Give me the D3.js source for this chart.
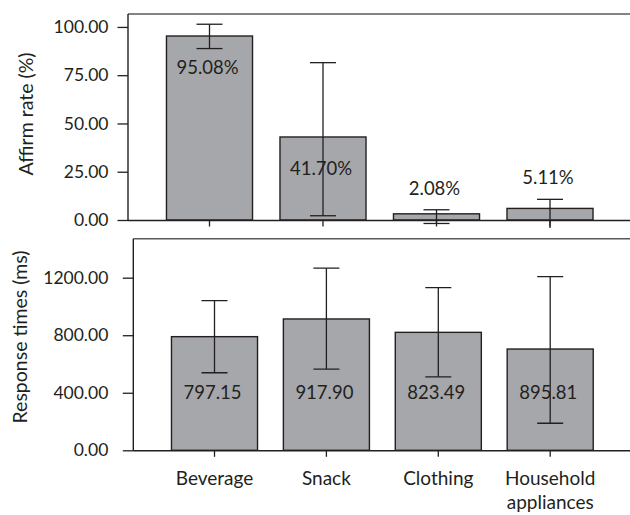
<!DOCTYPE html>
<html><head><meta charset="utf-8">
<script src="https://cdn.jsdelivr.net/npm/d3@7/dist/d3.min.js"></script>
<style>body{margin:0;background:#fff}svg{display:block}</style>
</head><body>
<svg id="chart" width="630" height="515"></svg>
<script>
const categories = ["Beverage", "Snack", "Clothing", "Household appliances"];
// Panel 1: affirm rate (%)
const affirmBars = [95.3, 43.0, 3.2, 6.0];
const affirmUpper = [101.4, 81.5, 5.3, 10.7];
const affirmLower = [88.8, 2.2, -1.8, -12];
const affirmLabels = ["95.08%", "41.70%", "2.08%", "5.11%"];
const affirmTicks = [0, 25, 50, 75, 100];
// Panel 2: response times (ms)
const rtBars = [790, 913, 820, 704];
const rtUpper = [1040, 1266, 1131, 1208];
const rtLower = [539, 564, 511, 188];
const rtLabels = ["797.15", "917.90", "823.49", "895.81"];
const rtTicks = [0, 400, 800, 1200];

const FONT = "Lato, 'Open Sans', sans-serif";
const INK = "#231f20";
const FILL = "#a6a7ab";
const svg = d3.select("#chart");
const fmt = d3.format(".2f");

function panel(cfg) {
  const g = svg.append("g");
  const x = d3.scaleBand().domain(categories).range(cfg.xr).paddingInner(cfg.pi).paddingOuter(cfg.pi / 2);
  const y = d3.scaleLinear().domain(cfg.yd).range([cfg.bottom, cfg.top]);
  const clipId = "clip" + cfg.id;
  svg.append("clipPath").attr("id", clipId).append("rect")
    .attr("x", cfg.left).attr("y", cfg.top).attr("width", 630 - cfg.left).attr("height", cfg.clipH);

  // top border
  g.append("line").attr("x1", cfg.left).attr("x2", 630).attr("y1", cfg.top).attr("y2", cfg.top)
    .attr("stroke", "#5a5a5a").attr("stroke-width", 1.6);

  // bars
  g.selectAll("rect.bar").data(categories).join("rect").attr("class", "bar")
    .attr("x", d => x(d)).attr("width", x.bandwidth())
    .attr("y", (d, i) => y(cfg.bars[i])).attr("height", (d, i) => y(0) - y(cfg.bars[i]))
    .attr("fill", FILL).attr("stroke", INK).attr("stroke-width", 1.4);

  // error bars
  const eg = g.append("g").attr("clip-path", `url(#${clipId})`).attr("stroke", INK).attr("stroke-width", 1.3);
  const cw = 13;
  categories.forEach((c, i) => {
    const cx = x(c) + x.bandwidth() / 2;
    eg.append("line").attr("x1", cx).attr("x2", cx).attr("y1", y(cfg.upper[i])).attr("y2", y(cfg.lower[i]));
    eg.append("line").attr("x1", cx - cw).attr("x2", cx + cw).attr("y1", y(cfg.upper[i])).attr("y2", y(cfg.upper[i]));
    eg.append("line").attr("x1", cx - cw).attr("x2", cx + cw).attr("y1", y(cfg.lower[i])).attr("y2", y(cfg.lower[i]));
  });

  // value labels
  g.selectAll("text.val").data(categories).join("text").attr("class", "val")
    .attr("x", d => x(d) + x.bandwidth() / 2 - 2)
    .attr("y", (d, i) => cfg.labelY(y, i))
    .attr("text-anchor", "middle").attr("font-family", FONT).attr("font-size", 18.5).attr("fill", INK)
    .text((d, i) => cfg.labels[i]);

  // y axis
  const ya = d3.axisLeft(y).tickValues(cfg.ticks).tickFormat(fmt).tickSize(cfg.tickLen).tickPadding(cfg.tickPad);
  const yg = g.append("g").attr("transform", `translate(${cfg.left},0)`).call(ya);
  yg.select(".domain").attr("d", `M0,${cfg.top}V${cfg.bottom + 0.5}`).attr("stroke", INK).attr("stroke-width", 1.4);
  yg.selectAll(".tick line").attr("stroke", INK).attr("stroke-width", 1.3);
  yg.selectAll(".tick text").attr("font-family", FONT).attr("font-size", 17.5).attr("fill", INK);

  // x axis
  const xa = d3.axisBottom(x).tickSize(6).tickFormat("");
  const xg = g.append("g").attr("transform", `translate(0,${cfg.bottom + 0.5})`).call(xa);
  xg.select(".domain").attr("d", `M${cfg.left},0H630`).attr("stroke", INK).attr("stroke-width", 1.4);
  xg.selectAll(".tick line").attr("stroke", INK).attr("stroke-width", 1.3);

  // y title
  g.append("text").attr("transform", `translate(${cfg.titleX},${cfg.titleY}) rotate(-90)`)
    .attr("text-anchor", "middle").attr("font-family", FONT).attr("font-size", 19.5).attr("fill", INK)
    .text(cfg.title);
  return {x, y};
}

panel({
  id: 1, left: 128, top: 14, bottom: 220, clipH: 214,
  xr: [152.75, 606.75], pi: 0.242, yd: [0, 106.7],
  bars: affirmBars, upper: affirmUpper, lower: affirmLower, labels: affirmLabels,
  ticks: affirmTicks, tickLen: 10.5, tickPad: 9,
  labelY: (y, i) => affirmBars[i] > 20 ? y(affirmBars[i]) + 38 : y(affirmUpper[i]) - 15,
  title: "Affirm rate (%)", titleX: 33, titleY: 114
});

const p2 = panel({
  id: 2, left: 133.3, top: 238.7, bottom: 450.3, clipH: 240,
  xr: [158.55, 606.15], pi: 0.231, yd: [0, 1471],
  bars: rtBars, upper: rtUpper, lower: rtLower, labels: rtLabels,
  ticks: rtTicks, tickLen: 10.5, tickPad: 14.5,
  labelY: (y, i) => y(0) - 51,
  title: "Response times (ms)", titleX: 27, titleY: 337
});

// category labels
const cl = svg.append("g").attr("font-family", FONT).attr("font-size", 19).attr("fill", INK).attr("text-anchor", "middle");
categories.forEach(c => {
  const words = c.split(" ");
  const cx = p2.x(c) + p2.x.bandwidth() / 2;
  const t = cl.append("text").attr("x", cx).attr("y", 485);
  words.forEach((w, j) => t.append("tspan").attr("x", cx).attr("dy", j === 0 ? 0 : 24).text(w));
});
</script>
</body></html>
